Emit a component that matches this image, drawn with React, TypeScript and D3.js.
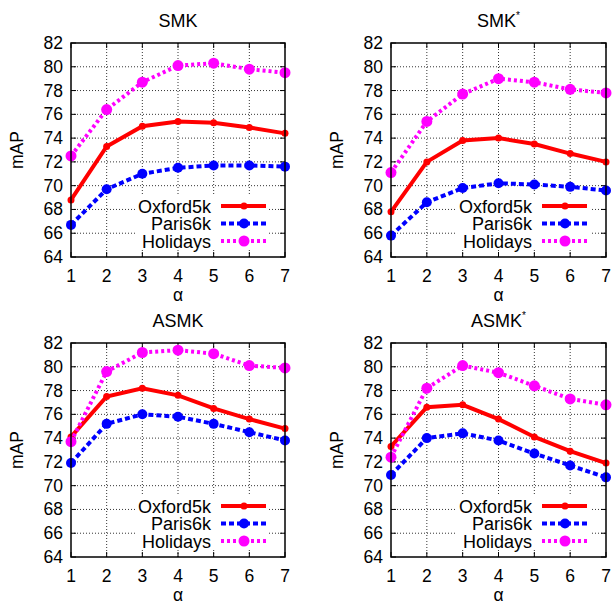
import React from "react";
import * as d3 from "d3";

const alphas = [1, 2, 3, 4, 5, 6, 7];
const yTicks = [64, 66, 68, 70, 72, 74, 76, 78, 80, 82];
const seriesNames = ["Oxford5k", "Paris6k", "Holidays"];

const smkOxford = [68.8, 73.3, 75.0, 75.4, 75.3, 74.9, 74.4];
const smkParis = [66.7, 69.7, 71.0, 71.5, 71.7, 71.7, 71.6];
const smkHolidays = [72.5, 76.4, 78.7, 80.1, 80.3, 79.8, 79.5];

const smkStarOxford = [67.8, 72.0, 73.8, 74.0, 73.5, 72.7, 72.0];
const smkStarParis = [65.8, 68.6, 69.8, 70.2, 70.1, 69.9, 69.6];
const smkStarHolidays = [71.1, 75.4, 77.7, 79.0, 78.7, 78.1, 77.8];

const asmkOxford = [74.1, 77.5, 78.2, 77.6, 76.5, 75.6, 74.8];
const asmkParis = [71.9, 75.2, 76.0, 75.8, 75.2, 74.5, 73.8];
const asmkHolidays = [73.7, 79.6, 81.2, 81.4, 81.1, 80.1, 79.9];

const asmkStarOxford = [73.3, 76.6, 76.8, 75.6, 74.1, 72.9, 71.9];
const asmkStarParis = [70.9, 74.0, 74.4, 73.8, 72.7, 71.7, 70.7];
const asmkStarHolidays = [72.4, 78.2, 80.1, 79.5, 78.4, 77.3, 76.8];

const panels = [
  { title: "SMK", star: false, data: [smkOxford, smkParis, smkHolidays] },
  { title: "SMK", star: true, data: [smkStarOxford, smkStarParis, smkStarHolidays] },
  { title: "ASMK", star: false, data: [asmkOxford, asmkParis, asmkHolidays] },
  { title: "ASMK", star: true, data: [asmkStarOxford, asmkStarParis, asmkStarHolidays] },
];

const styles = [
  { color: "#ff0000", dash: "none", width: 4, r: 3.5 },
  { color: "#0000ff", dash: "5,3", width: 4, r: 5 },
  { color: "#ff00ff", dash: "3,3", width: 4, r: 5.5 },
];

const FONT = "'Liberation Sans', Arial, sans-serif";
const FS = 17.5;

function Panel({ ox, oy, pw, title, star, data }: any) {
  const left = ox;
  const right = ox + pw;
  const top = oy;
  const bottom = oy + 214;
  const x = d3.scaleLinear().domain([1, 7]).range([left, right]);
  const y = d3.scaleLinear().domain([64, 82]).range([bottom, top]);
  const line = d3
    .line<number>()
    .x((_, i) => x(alphas[i]))
    .y((d) => y(d));
  const cx = (left + right) / 2;
  const legX = right - 64;
  const legTop = bottom - 51;
  return (
    <g>
      {/* grid */}
      {alphas.slice(1, -1).map((a) => (
        <line key={"gx" + a} x1={x(a)} x2={x(a)} y1={top} y2={bottom} stroke="#000" strokeWidth={0.8} strokeDasharray="1,2" />
      ))}
      {yTicks.slice(1, -1).map((t) => (
        <line key={"gy" + t} x1={left} x2={right} y1={y(t)} y2={y(t)} stroke="#000" strokeWidth={0.8} strokeDasharray="1,2" />
      ))}
      {/* ticks */}
      {alphas.map((a) => (
        <g key={"tx" + a}>
          <line x1={x(a)} x2={x(a)} y1={bottom} y2={bottom - 5} stroke="#000" strokeWidth={1} />
          <line x1={x(a)} x2={x(a)} y1={top} y2={top + 5} stroke="#000" strokeWidth={1} />
          <text x={x(a)} y={bottom + 25} textAnchor="middle" fontFamily={FONT} fontSize={FS}>{a}</text>
        </g>
      ))}
      {yTicks.map((t) => (
        <g key={"ty" + t}>
          <line x1={left} x2={left + 5} y1={y(t)} y2={y(t)} stroke="#000" strokeWidth={1} />
          <line x1={right} x2={right - 5} y1={y(t)} y2={y(t)} stroke="#000" strokeWidth={1} />
          <text x={left - 8} y={y(t) + 6} textAnchor="end" fontFamily={FONT} fontSize={FS}>{t}</text>
        </g>
      ))}
      {/* legend background */}
      <rect x={legX - 86} y={legTop - 10} width={134} height={54} fill="#fff" />
      {/* series */}
      {data.map((vals: number[], i: number) => {
        const s = styles[i];
        return (
          <g key={"s" + i}>
            <path d={line(vals) || ""} fill="none" stroke={s.color} strokeWidth={s.width} strokeDasharray={s.dash} />
            {vals.map((v, j) => (
              <circle key={j} cx={x(alphas[j])} cy={y(v)} r={s.r} fill={s.color} />
            ))}
          </g>
        );
      })}
      {/* legend */}
      {seriesNames.map((n, i) => {
        const ly = legTop + i * 17.5;
        const s = styles[i];
        return (
          <g key={"lg" + n}>
            <text x={legX - 10} y={ly + 6.5} textAnchor="end" fontFamily={FONT} fontSize={18}>{n}</text>
            <line x1={legX} x2={legX + 45} y1={ly} y2={ly} stroke={s.color} strokeWidth={s.width} strokeDasharray={s.dash} />
            <circle cx={legX + 23} cy={ly} r={s.r} fill={s.color} />
          </g>
        );
      })}
      {/* frame */}
      <rect x={left} y={top} width={right - left} height={bottom - top} fill="none" stroke="#000" strokeWidth={1.5} />
      {/* title */}
      <text x={cx} y={top - 16} textAnchor="middle" fontFamily={FONT} fontSize={18}>
        {title}
        {star ? <tspan fontSize={10} dy={-8}>*</tspan> : null}
      </text>
      {/* axis labels */}
      <text x={cx} y={bottom + 44} textAnchor="middle" fontFamily={FONT} fontSize={FS}>α</text>
      <text transform={`translate(${left - 48},${(top + bottom) / 2}) rotate(-90)`} textAnchor="middle" fontFamily={FONT} fontSize={FS}>mAP</text>
    </g>
  );
}

export default function App() {
  const pos = [
    { ox: 71, oy: 43, pw: 214 },
    { ox: 391, oy: 43, pw: 215 },
    { ox: 71, oy: 343, pw: 214 },
    { ox: 391, oy: 343, pw: 215 },
  ];
  return (
    <svg width={613} height={604} style={{ position: "absolute", left: 0, top: 0, background: "#fff" }}>
      <rect width={613} height={604} fill="#fff" />
      {panels.map((p, i) => (
        <Panel key={i} {...pos[i]} title={p.title} star={p.star} data={p.data} />
      ))}
    </svg>
  );
}
